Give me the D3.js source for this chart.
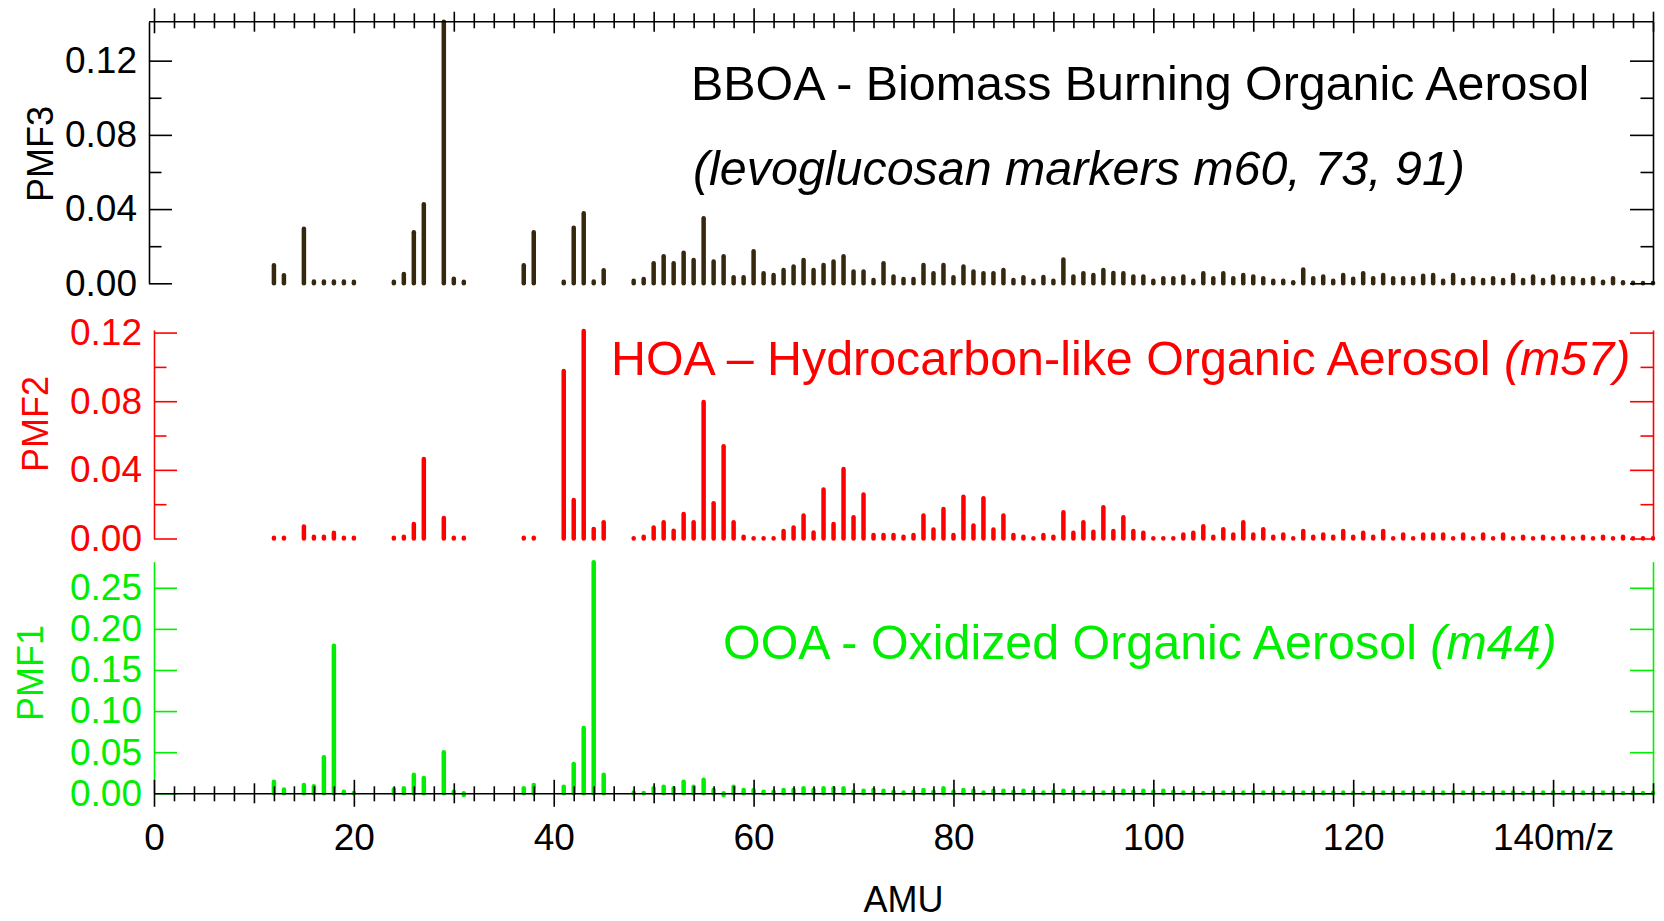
<!DOCTYPE html>
<html>
<head>
<meta charset="utf-8">
<script src="https://cdn.jsdelivr.net/npm/d3@7"></script>
<style>
  html, body { margin: 0; padding: 0; background: #fff; }
  svg { display: block; }
  text { font-family: "Liberation Sans", Arial, sans-serif; }
</style>
</head>
<body>
<svg id="chart" width="1664" height="921"></svg>
<script>
// m/z channels shown in the three factor profiles
const mz = [
  12, 13, 15, 16, 17, 18, 19, 20, 24, 25, 26, 27, 29, 30, 31, 37, 38, 41, 42, 43, 44, 45,
  48, 49, 50, 51, 52, 53, 54, 55, 56, 57, 58, 59, 60, 61, 62, 63, 64, 65, 66, 67, 68, 69,
  70, 71, 72, 73, 74, 75, 76, 77, 78, 79, 80, 81, 82, 83, 84, 85, 86, 87, 88, 89,
  90, 91, 92, 93, 94, 95, 96, 97, 98, 99, 100, 101, 102, 103, 104, 105, 106, 107, 108, 109,
  110, 111, 112, 113, 114, 115, 116, 117, 118, 119, 120, 121, 122, 123, 124, 125, 126, 127, 128, 129,
  130, 131, 132, 133, 134, 135, 136, 137, 138, 139, 140, 141, 142, 143, 144, 145, 146, 147, 148, 149, 150
];

// PMF3 - BBOA profile
const pmf3 = [
  0.0097, 0.0043, 0.0294, 0.0010, 0.0010, 0.0010, 0.0010, 0.0008, 0.0008, 0.0050, 0.0275, 0.0426, 0.1410, 0.0025, 0.0008, 0.0097, 0.0275, 0.0008, 0.0300, 0.0378, 0.0010, 0.0070,
  0.0014, 0.0023, 0.0108, 0.0146, 0.0108, 0.0164, 0.0126, 0.0350, 0.0117, 0.0146, 0.0032, 0.0032, 0.0173, 0.0054, 0.0045, 0.0072, 0.0090, 0.0126, 0.0072, 0.0099, 0.0117, 0.0146,
  0.0063, 0.0063, 0.0018, 0.0108, 0.0036, 0.0023, 0.0023, 0.0099, 0.0054, 0.0099, 0.0032, 0.0090, 0.0063, 0.0054, 0.0054, 0.0072, 0.0018, 0.0032, 0.0014, 0.0034,
  0.0014, 0.0128, 0.0036, 0.0054, 0.0045, 0.0072, 0.0056, 0.0054, 0.0036, 0.0036, 0.0014, 0.0027, 0.0027, 0.0036, 0.0014, 0.0054, 0.0027, 0.0054, 0.0027, 0.0045,
  0.0036, 0.0027, 0.0014, 0.0014, 0.0005, 0.0074, 0.0027, 0.0036, 0.0014, 0.0045, 0.0025, 0.0054, 0.0027, 0.0045, 0.0027, 0.0027, 0.0027, 0.0041, 0.0045, 0.0014,
  0.0045, 0.0018, 0.0027, 0.0018, 0.0027, 0.0018, 0.0045, 0.0018, 0.0036, 0.0018, 0.0036, 0.0027, 0.0027, 0.0018, 0.0027, 0.0009, 0.0027, 0.0005, 0.0003, 0.0000, 0.0000
];

// PMF2 - HOA profile
const pmf2 = [
  0.0005, 0.0005, 0.0070, 0.0010, 0.0010, 0.0033, 0.0005, 0.0005, 0.0005, 0.0010, 0.0085, 0.0463, 0.0120, 0.0005, 0.0005, 0.0005, 0.0005, 0.0976, 0.0225, 0.1209, 0.0056, 0.0095,
  0.0000, 0.0010, 0.0064, 0.0095, 0.0045, 0.0143, 0.0095, 0.0796, 0.0205, 0.0537, 0.0095, 0.0010, 0.0000, 0.0000, 0.0000, 0.0043, 0.0064, 0.0134, 0.0035, 0.0285, 0.0085, 0.0405,
  0.0124, 0.0256, 0.0020, 0.0020, 0.0020, 0.0010, 0.0020, 0.0134, 0.0052, 0.0172, 0.0020, 0.0244, 0.0076, 0.0234, 0.0052, 0.0134, 0.0020, 0.0010, 0.0000, 0.0020,
  0.0010, 0.0153, 0.0033, 0.0095, 0.0040, 0.0182, 0.0043, 0.0124, 0.0043, 0.0033, 0.0000, 0.0000, 0.0000, 0.0023, 0.0033, 0.0072, 0.0010, 0.0054, 0.0023, 0.0095,
  0.0023, 0.0054, 0.0010, 0.0023, 0.0000, 0.0043, 0.0010, 0.0023, 0.0010, 0.0043, 0.0010, 0.0033, 0.0010, 0.0043, 0.0000, 0.0023, 0.0000, 0.0023, 0.0023, 0.0023,
  0.0000, 0.0023, 0.0000, 0.0023, 0.0000, 0.0023, 0.0000, 0.0010, 0.0000, 0.0010, 0.0000, 0.0010, 0.0000, 0.0010, 0.0000, 0.0010, 0.0000, 0.0010, 0.0000, 0.0000, 0.0000
];

// PMF1 - OOA profile
const pmf1 = [
  0.0142, 0.0045, 0.0100, 0.0085, 0.0438, 0.1796, 0.0020, 0.0000, 0.0045, 0.0060, 0.0227, 0.0187, 0.0499, 0.0020, -0.0020, 0.0060, 0.0100, 0.0080, 0.0357, 0.0795, 0.2810, 0.0227,
  0.0010, 0.0000, 0.0060, 0.0080, 0.0060, 0.0140, 0.0080, 0.0166, 0.0040, -0.0020, 0.0080, 0.0040, 0.0040, 0.0020, 0.0020, 0.0040, 0.0040, 0.0060, 0.0040, 0.0060, 0.0060, 0.0060,
  0.0020, 0.0030, 0.0040, 0.0030, 0.0020, 0.0010, 0.0020, 0.0040, 0.0020, 0.0060, 0.0020, 0.0040, 0.0030, 0.0010, 0.0030, 0.0030, 0.0020, 0.0030, 0.0020, 0.0010,
  0.0020, 0.0030, 0.0020, 0.0010, 0.0010, 0.0010, 0.0020, 0.0030, 0.0020, 0.0030, 0.0020, 0.0030, 0.0020, 0.0010, 0.0010, 0.0000, 0.0010, 0.0010, 0.0010, 0.0010,
  0.0010, 0.0010, 0.0010, 0.0010, 0.0010, 0.0010, 0.0010, 0.0010, 0.0010, 0.0010, 0.0000, 0.0000, 0.0010, 0.0010, 0.0010, 0.0010, 0.0010, 0.0010, 0.0010, 0.0010,
  0.0010, 0.0010, 0.0010, 0.0000, 0.0010, 0.0010, 0.0010, 0.0000, 0.0010, 0.0010, 0.0010, 0.0010, 0.0010, 0.0010, 0.0000, 0.0010, 0.0010, 0.0000, 0.0010, 0.0000, 0.0000
];

// axis ticks
const xLabelTicks = [0, 20, 40, 60, 80, 100, 120, 140];
const xMidTicks = [10, 30, 50, 70, 90, 110, 130, 150];
const pmf3Ticks = [0, 0.04, 0.08, 0.12];
const pmf3Minor = [0.02, 0.06, 0.10];
const pmf2Ticks = [0, 0.04, 0.08, 0.12];
const pmf2Minor = [0.02, 0.06, 0.10];
const pmf1Ticks = [0, 0.05, 0.10, 0.15, 0.20, 0.25];

const FONT = '"Liberation Sans", Arial, sans-serif';
const TICK_FONT = 37;
const TITLE_FONT = 48.4;
const svg = d3.select("#chart");

const x = d3.scaleLinear().domain([0, 150]).range([154, 1653]);
const xRight = x(150);

const panels = [
  { label: "PMF3", values: pmf3, bar: "#36270f", axis: "#000000", max: 0.141, range: [283.3, 21.7],
    leftX: 149, major: pmf3Ticks, minor: pmf3Minor, labelPos: [53, 154] },
  { label: "PMF2", values: pmf2, bar: "#ff0000", axis: "#ff0000", max: 0.1215, range: [538.5, 330],
    leftX: 154, major: pmf2Ticks, minor: pmf2Minor, labelPos: [48, 424] },
  { label: "PMF1", values: pmf1, bar: "#00ee00", axis: "#00ee00", max: 0.2817, range: [793.3, 561.7],
    leftX: 154, major: pmf1Ticks, minor: [], labelPos: [43, 673] }
];

function styleAxis(g, color) {
  g.attr("color", color).attr("font-family", FONT).attr("font-size", TICK_FONT);
  g.selectAll("path.domain").attr("stroke-width", 1.6);
  g.selectAll(".tick line").attr("stroke-width", 1.6);
  g.selectAll(".tick text").attr("fill", color);
}

panels.forEach(p => {
  const y = d3.scaleLinear().domain([0, p.max]).range(p.range);
  const g = svg.append("g");

  // stick spectrum: one rounded stroke per m/z
  g.append("g")
    .selectAll("line")
    .data(mz.map((m, i) => ({ m, v: p.values[i] })))
    .join("line")
    .attr("x1", d => x(d.m))
    .attr("x2", d => x(d.m))
    .attr("y1", y(0))
    .attr("y2", d => Math.abs(y(d.v) - y(0)) < 0.3 ? y(0) - 0.3 : y(d.v))
    .attr("stroke", p.bar)
    .attr("stroke-width", 4.5)
    .attr("stroke-linecap", "round");

  // left axis, ticks pointing inward
  const left = g.append("g").attr("transform", `translate(${p.leftX},0)`)
    .call(d3.axisLeft(y).tickValues(p.major).tickSizeInner(-23).tickSizeOuter(0)
      .tickPadding(12).tickFormat(d3.format(".2f")));
  styleAxis(left, p.axis);
  if (p.minor.length) {
    const lm = g.append("g").attr("transform", `translate(${p.leftX},0)`)
      .call(d3.axisLeft(y).tickValues(p.minor).tickSizeInner(-12.5).tickSizeOuter(0).tickFormat(""));
    lm.select("path.domain").remove();
    styleAxis(lm, p.axis);
  }

  // mirrored right axis
  const right = g.append("g").attr("transform", `translate(${xRight},0)`)
    .call(d3.axisRight(y).tickValues(p.major).tickSizeInner(-23).tickSizeOuter(0).tickFormat(""));
  styleAxis(right, p.axis);
  if (p.minor.length) {
    const rm = g.append("g").attr("transform", `translate(${xRight},0)`)
      .call(d3.axisRight(y).tickValues(p.minor).tickSizeInner(-12.5).tickSizeOuter(0).tickFormat(""));
    rm.select("path.domain").remove();
    styleAxis(rm, p.axis);
  }

  // factor name
  svg.append("text")
    .attr("transform", `translate(${p.labelPos[0]},${p.labelPos[1]}) rotate(-90)`)
    .attr("text-anchor", "middle")
    .attr("font-size", 36)
    .attr("fill", p.axis)
    .text(p.label);
});

// shared m/z axes: top (tick marks only) and bottom (labelled)
const minorX = d3.range(2, 150, 2).filter(d => d % 10 !== 0);
function xTicks(axisFn, yPos, values, up, down) {
  const a = svg.append("g").attr("transform", `translate(0,${yPos})`)
    .call(axisFn(x).tickValues(values).tickSizeOuter(0).tickFormat(""));
  a.select("path.domain").remove();
  a.selectAll(".tick line").attr("y1", -up).attr("y2", down);
  styleAxis(a, "#000");
  return a;
}
const topY = 21.7, bottomY = 793.3;
svg.append("line").attr("x1", 149).attr("x2", xRight).attr("y1", topY).attr("y2", topY)
  .attr("stroke", "#000").attr("stroke-width", 1.6);
xTicks(d3.axisTop, topY, xLabelTicks, 13.4, 11.6);
xTicks(d3.axisTop, topY, xMidTicks, 10, 10);
xTicks(d3.axisTop, topY, minorX, 8.4, 6.6);

const bottom = svg.append("g").attr("transform", `translate(0,${bottomY})`)
  .call(d3.axisBottom(x).tickValues(xLabelTicks).tickSizeOuter(0)
    .tickFormat(d => d === 140 ? "140m/z" : d));
styleAxis(bottom, "#000");
bottom.selectAll(".tick line").attr("y1", -13.5).attr("y2", 13.5);
bottom.selectAll(".tick text").attr("y", 57).attr("dy", null);
xTicks(d3.axisBottom, bottomY, xMidTicks, 10, 10);
xTicks(d3.axisBottom, bottomY, minorX, 7, 8);

svg.append("text")
  .attr("x", x(75)).attr("y", 912)
  .attr("text-anchor", "middle").attr("font-size", 36).attr("fill", "#000")
  .text("AMU");

// panel annotations
svg.append("text").attr("x", 691).attr("y", 100).attr("font-size", TITLE_FONT).attr("fill", "#000")
  .text("BBOA - Biomass Burning Organic Aerosol");
svg.append("text").attr("x", 693).attr("y", 185).attr("font-size", TITLE_FONT).attr("fill", "#000")
  .attr("font-style", "italic")
  .text("(levoglucosan markers m60, 73, 91)");

const hoa = svg.append("text").attr("x", 611).attr("y", 375).attr("font-size", TITLE_FONT).attr("fill", "#ff0000");
hoa.append("tspan").text("HOA \u2013 Hydrocarbon-like Organic Aerosol ");
hoa.append("tspan").attr("font-style", "italic").text("(m57)");

const ooa = svg.append("text").attr("x", 723).attr("y", 659).attr("font-size", TITLE_FONT).attr("fill", "#00ee00");
ooa.append("tspan").text("OOA - Oxidized Organic Aerosol ");
ooa.append("tspan").attr("font-style", "italic").text("(m44)");
</script>
</body>
</html>
